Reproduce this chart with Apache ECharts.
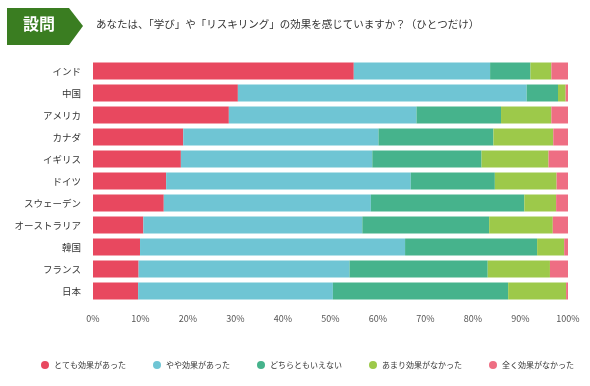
<!DOCTYPE html>
<html>
<head>
<meta charset="utf-8">
<script src="https://cdn.jsdelivr.net/npm/echarts@6/dist/echarts.min.js"></script>
<style>
html,body{margin:0;padding:0;background:#fff;}
#c{width:590px;height:386px;}
</style>
</head>
<body>
<div id="c"></div>
<script>
const categories = ['インド','中国','アメリカ','カナダ','イギリス','ドイツ','スウェーデン','オーストラリア','韓国','フランス','日本'];
const seriesNames = ['とても効果があった','やや効果があった','どちらともいえない','あまり効果がなかった','全く効果がなかった'];
const verygood = [54.9, 30.5, 28.6, 19.0, 18.5, 15.4, 14.9, 10.6, 9.9, 9.6, 9.5];
const somewhat = [28.7, 60.8, 39.5, 41.1, 40.3, 51.5, 43.6, 46.1, 55.8, 44.4, 41.0];
const neither  = [8.5, 6.6, 17.8, 24.2, 23.0, 17.7, 32.3, 26.7, 27.8, 29.1, 36.9];
const notmuch  = [4.4, 1.6, 10.6, 12.6, 14.1, 13.0, 6.7, 13.4, 5.7, 13.1, 12.2];
const notatall = [3.5, 0.5, 3.5, 3.1, 4.1, 2.4, 2.5, 3.2, 0.8, 3.8, 0.4];
const xTicks = ['0%','10%','20%','30%','40%','50%','60%','70%','80%','90%','100%'];
const colors = ['#e8485f','#6fc5d4','#46b38c','#9dc94a','#ee6e83'];
const titleLabel = '設問';
const question = 'あなたは、「学び」や「リスキリング」の効果を感じていますか？（ひとつだけ）';

const font = '"Noto Sans CJK JP","Noto Sans",sans-serif';
const dataSets = [verygood, somewhat, neither, notmuch, notatall];
const chart = echarts.init(document.getElementById('c'));
chart.setOption({
  animation: false,
  textStyle: {fontFamily: font},
  color: colors,
  grid: {left: 93, right: 22, top: 60, bottom: 84},
  legend: {
    left: 36, top: 356,
    icon: 'circle', itemWidth: 8, itemHeight: 8, itemGap: 27,
    textStyle: {fontSize: 8, color: '#333', fontFamily: font},
    data: seriesNames
  },
  xAxis: {
    type: 'value', min: 0, max: 100, interval: 10,
    axisLine: {show: false}, axisTick: {show: false}, splitLine: {show: false},
    axisLabel: {
      margin: 12, fontSize: 9, color: '#555',
      formatter: function (v) { return xTicks[Math.round(v / 10)]; }
    }
  },
  yAxis: {
    type: 'category', data: categories, inverse: true,
    axisLine: {show: false}, axisTick: {show: false},
    axisLabel: {margin: 12, fontSize: 9.5, color: '#333'}
  },
  series: seriesNames.map(function (n, i) {
    return {name: n, type: 'bar', stack: 'all', barWidth: 17, data: dataSets[i]};
  }),
  graphic: [
    {type: 'polygon', shape: {points: [[7,8],[69,8],[83,26],[69,45],[7,45]]}, style: {fill: '#3a7d21'}},
    {type: 'text', left: 23, top: 16, style: {text: titleLabel, fill: '#fff', fontSize: 16, fontWeight: 'bold', fontFamily: font}},
    {type: 'text', left: 96, top: 19, style: {text: question, fill: '#333', fontSize: 10.5, fontFamily: font}}
  ]
});
</script>
</body>
</html>
